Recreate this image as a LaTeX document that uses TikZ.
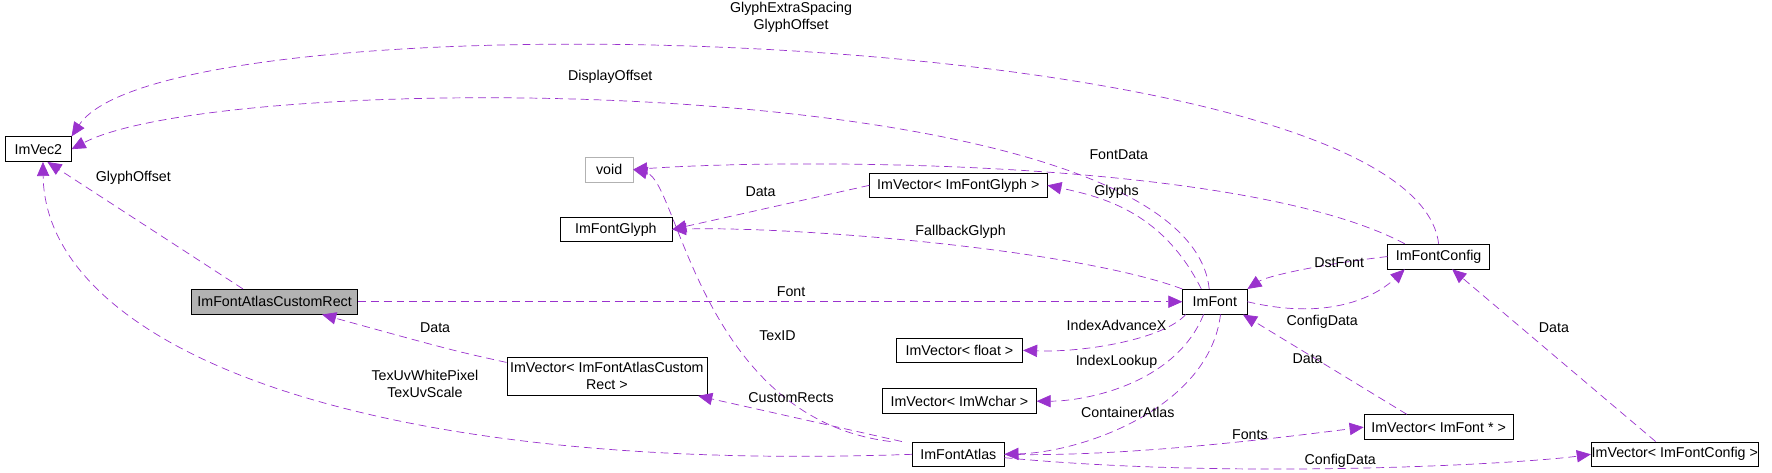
\documentclass[tikz,border=0pt]{standalone}
\usepackage{fontspec}
\setmainfont{Liberation Sans}
\usetikzlibrary{arrows.meta}
\definecolor{ep}{HTML}{9A32CD}
\def\pxu{0.0226cm}
\begin{document}
\begin{tikzpicture}[x=\pxu,y=-\pxu,
  box/.style={draw=black,fill=white,inner sep=0pt,minimum height=22*\pxu,font=\fontsize{8.1}{9.6}\selectfont,align=center},
  e/.style={draw=ep,dashed,dash pattern=on 4.5pt off 2.8pt,-{Triangle[length=8pt,width=7pt]}},
  lb/.style={font=\fontsize{8.1}{9.6}\selectfont,align=center,inner sep=0pt}]
\useasboundingbox (0,0) rectangle (1568,418);
\node[box,minimum width=58*\pxu] (vec2) at (34,132) {ImVec2};
\node[box,draw=gray!60,minimum width=42*\pxu] (void) at (539,150) {void};
\node[box,minimum width=157*\pxu] (vglyph) at (848,164) {ImVector< ImFontGlyph >};
\node[box,minimum width=99*\pxu] (glyph) at (545,203) {ImFontGlyph};
\node[box,minimum width=90*\pxu] (cfg) at (1273,227) {ImFontConfig};
\node[box,fill=gray!60,minimum width=147*\pxu] (cr) at (243,267) {ImFontAtlasCustomRect};
\node[box,minimum width=57*\pxu] (font) at (1075,267) {ImFont};
\node[box,minimum width=112*\pxu] (vfloat) at (849,310) {ImVector< float >};
\node[box,minimum width=177*\pxu,minimum height=34*\pxu] (vcr) at (537,333) {ImVector< ImFontAtlasCustom\\Rect >};
\node[box,minimum width=136*\pxu] (vwchar) at (849,355) {ImVector< ImWchar >};
\node[box,minimum width=81*\pxu] (atlas) at (848,402) {ImFontAtlas};
\node[box,minimum width=132*\pxu] (vfont) at (1273,378) {ImVector< ImFont * >};
\node[box,minimum width=148*\pxu] (vcfg) at (1482,402) {ImVector< ImFontConfig >};

\draw[e] (cfg.north) .. controls (1250,20) and (150,-10) .. (vec2.north east);
\node[lb] at (700,15) {GlyphExtraSpacing\\GlyphOffset};
\draw[e] ([xshift=-5*\pxu]font.north) .. controls (1050,60) and (200,60) .. (vec2.east);
\node[lb] at (540,68) {DisplayOffset};
\draw[e] ([xshift=-28*\pxu]cr.north) -- ([xshift=8*\pxu]vec2.south);
\node[lb] at (118,157) {GlyphOffset};
\draw[e] (atlas.west) .. controls (300,420) and (40,300) .. ([xshift=4*\pxu]vec2.south);
\node[lb] at (376,340) {TexUvWhitePixel\\TexUvScale};
\draw[e] ([xshift=-30*\pxu]cfg.north) .. controls (1100,140) and (700,140) .. (void.east);
\node[lb] at (990,137) {FontData};
\draw[e] ([xshift=-60*\pxu]atlas.north) .. controls (620,370) and (600,160) .. (void.east);
\node[lb] at (688,297) {TexID};
\draw[e] (vglyph.west) -- (glyph.east);
\node[lb] at (673,170) {Data};
\draw[e] ([xshift=-12*\pxu]font.north) .. controls (1030,190) and (980,175) .. (vglyph.east);
\node[lb] at (988,170) {Glyphs};
\draw[e] (font.north west) .. controls (950,220) and (700,200) .. (glyph.east);
\node[lb] at (850,205) {FallbackGlyph};
\draw[e] (cfg.west) .. controls (1160,235) and (1120,245) .. (font.north east);
\node[lb] at (1185,232) {DstFont};
\draw[e] (font.east) .. controls (1180,285) and (1220,260) .. ([xshift=-30*\pxu]cfg.south);
\node[lb] at (1170,285) {ConfigData};
\draw[e] (cr.east) -- (font.west);
\node[lb] at (700,258) {Font};
\draw[e] ([xshift=3*\pxu]font.south west) .. controls (1030,300) and (960,312) .. (vfloat.east);
\node[lb] at (988,288) {IndexAdvanceX};
\draw[e] ([xshift=-10*\pxu]font.south) .. controls (1040,340) and (960,355) .. (vwchar.east);
\node[lb] at (988,320) {IndexLookup};
\draw[e] ([xshift=5*\pxu]font.south) .. controls (1070,360) and (960,400) .. (atlas.east);
\node[lb] at (998,365) {ContainerAtlas};
\draw[e] ([xshift=-28*\pxu]vfont.north) -- ([xshift=-4*\pxu]font.south east);
\node[lb] at (1157,317) {Data};
\draw[e] ([yshift=-5*\pxu]vcr.north west) .. controls (400,310) .. ([xshift=42*\pxu]cr.south);
\node[lb] at (385,290) {Data};
\draw[e] ([xshift=-50*\pxu]atlas.north) -- ([xshift=-8*\pxu]vcr.south east);
\node[lb] at (700,352) {CustomRects};
\draw[e] (atlas.east) .. controls (1000,405) and (1150,385) .. (vfont.west);
\node[lb] at (1106,385) {Fonts};
\draw[e] ([yshift=-3*\pxu]atlas.east) .. controls (1100,425) and (1350,410) .. (vcfg.west);
\node[lb] at (1186,408) {ConfigData};
\draw[e] ([xshift=-17*\pxu]vcfg.north) -- ([xshift=12*\pxu]cfg.south);
\node[lb] at (1375,290) {Data};
\end{tikzpicture}
\end{document}
